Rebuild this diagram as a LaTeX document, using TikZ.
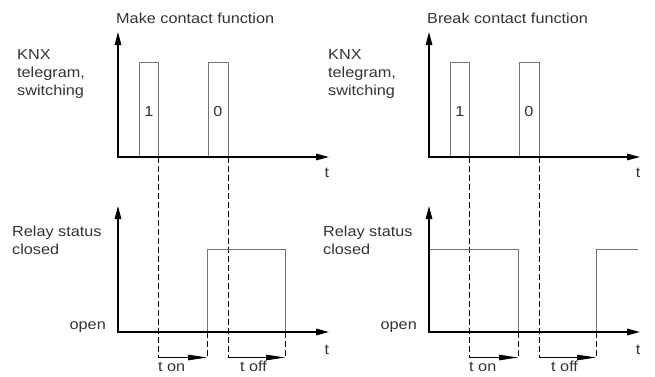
\documentclass[tikz,border=0pt]{standalone}
\usepackage{fontspec}
\setmainfont{Liberation Sans}[FakeStretch=1.12]
\usetikzlibrary{arrows.meta}
\begin{document}
\begin{tikzpicture}[x=1pt,y=-1pt,
  axis/.style={draw=black,line width=1.4pt,-{Triangle[length=13pt,width=6.5pt]}},
  signal/.style={draw=black!55,line width=0.9pt},
  guide/.style={draw=black,line width=0.8pt,dash pattern=on 6pt off 3pt},
  delay/.style={draw=black,line width=0.8pt,-{Triangle[length=19pt,width=5.5pt]}},
  lbl/.style={inner sep=0pt,font=\fontsize{14.5}{18}\selectfont,text=black!80},
  lblml/.style={lbl,align=left,anchor=north west}]
\useasboundingbox (0,0) rectangle (655,376);
\foreach \sx/\title/\nm in {0/Make contact function/L, 311/Break contact function/R}{
\begin{scope}[xshift=\sx pt]
  % texts
  \node[lbl,anchor=base west] (title\nm) at (116,23.5) {\title};
  \node[lblml] (knx\nm) at (17,49.5) {KNX\\telegram,\\switching};
  \node[lblml] (relay\nm) at (12,225.5) {Relay status\\closed};
  \node[lbl,anchor=base east] (open\nm) at (106,329) {open};
  \node[lbl,anchor=base] (t1\nm) at (327,177) {t};
  \node[lbl,anchor=base] (t2\nm) at (327,354) {t};
  \node[lbl,anchor=base] (one\nm) at (149,116) {1};
  \node[lbl,anchor=base] (zero\nm) at (218,116) {0};
  \node[lbl,anchor=base west] (ton\nm) at (158,371.5) {t on};
  \node[lbl,anchor=base west] (toff\nm) at (240,371.5) {t off};
  % coordinates
  \coordinate (o1\nm) at (118,157);
  \coordinate (o2\nm) at (118,332);
  % pulses
  \draw[signal] (139,157) -- (139,62) -- (158,62) -- (158,157);
  \draw[signal] (208,157) -- (208,62) -- (228,62) -- (228,157);
  % guides
  \draw[guide] (158,157) -- (158,358);
  \draw[guide] (228,157) -- (228,358);
  \draw[guide] (207,332) -- (207,358);
  \draw[guide] (285,332) -- (285,358);
  % delays
  \coordinate (a\nm) at (158,357.5); \coordinate (b\nm) at (207,357.5);
  \coordinate (c\nm) at (228,357.5); \coordinate (d\nm) at (285,357.5);
  \draw[delay] (a\nm) -- (b\nm);
  \draw[delay] (c\nm) -- (d\nm);
\end{scope}}
% relay signals
\draw[signal] (207,332) -- (207,249) -- (285,249) -- (285,332);
\draw[signal] (429,249) -- (518,249) -- (518,332);
\draw[signal] (596,332) -- (596,249) -- (638,249);
% axes
\foreach \sx/\nm in {0/L,311/R}{
\begin{scope}[xshift=\sx pt]
  \draw[axis] (118,157) -- (118,32);
  \draw[axis] (117.3,157) -- (329,157);
  \draw[axis] (118,332) -- (118,206);
  \draw[axis] (117.3,332) -- (329,332);
\end{scope}}
\end{tikzpicture}
\end{document}
